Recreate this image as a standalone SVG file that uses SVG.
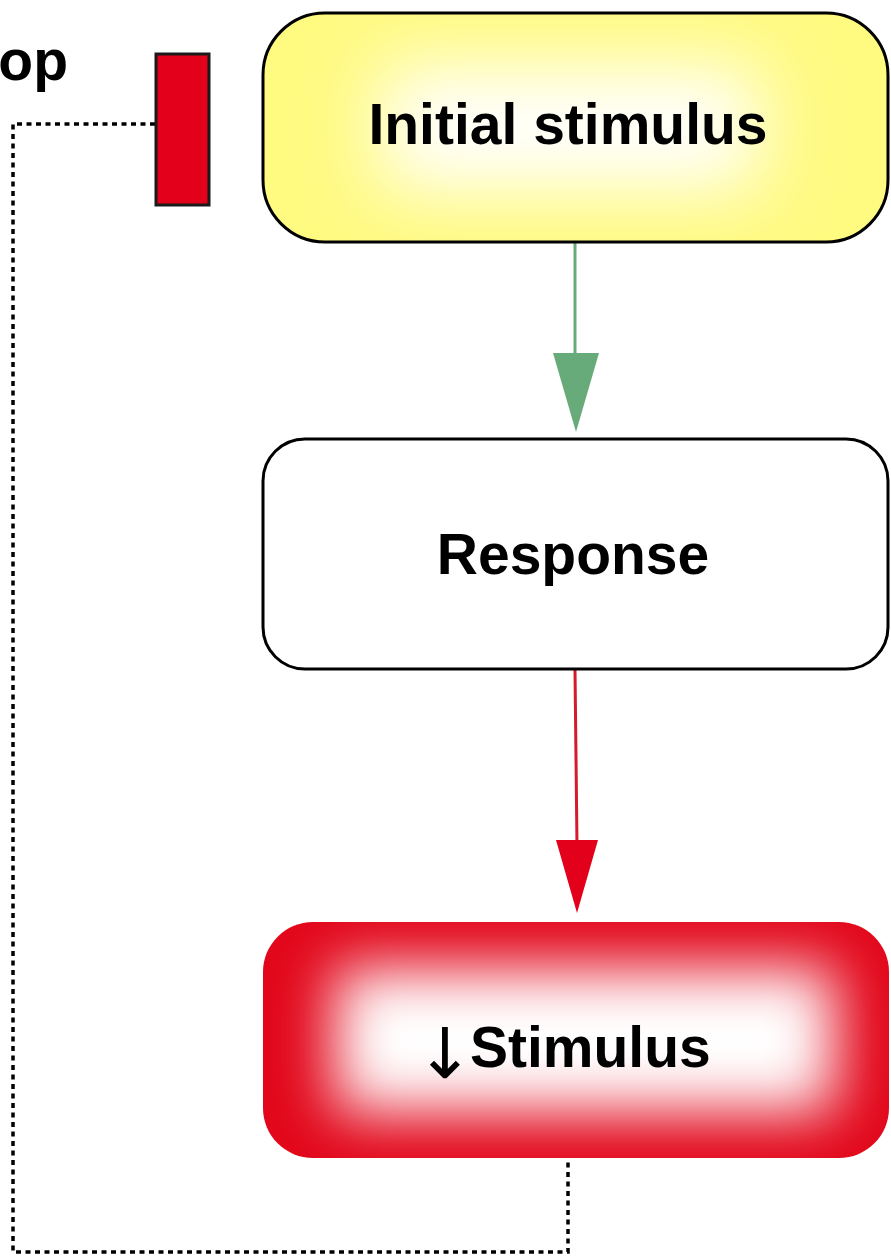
<svg xmlns="http://www.w3.org/2000/svg" width="891" height="1257" viewBox="0 0 891 1257">
<style>
.lbl{font-family:"Liberation Sans",Arial,Helvetica,sans-serif;font-weight:bold;font-size:57px;fill:#000}
.arw{font-family:"DejaVu Sans",sans-serif;font-weight:normal;font-size:70px}
.box{stroke:#000;stroke-width:3}
.dot{fill:none;stroke:#000;stroke-width:3.5;stroke-dasharray:5 4.5}
</style>
<defs>
<clipPath id="cpY"><rect x="263" y="13" width="625" height="229" rx="62"/></clipPath>
<clipPath id="cpR"><rect x="263" y="922" width="626" height="236" rx="50"/></clipPath>
<filter id="blurY" x="-50%" y="-100%" width="200%" height="300%"><feGaussianBlur stdDeviation="38"/></filter>
<filter id="blurR" x="-50%" y="-100%" width="200%" height="300%"><feGaussianBlur stdDeviation="30"/></filter>
</defs>
<rect width="891" height="1257" fill="#fff"/>
<text class="lbl" x="68" y="80" text-anchor="end">op</text>
<g id="connectors">
<path class="dot" d="M155,124 H13 V1252 H568 V1160"/>
<line x1="575" y1="243" x2="575" y2="360" stroke="#68ab7a" stroke-width="3"/>
<polygon points="553,353 599,353 576,432" fill="#68ab7a"/>
<line x1="575" y1="670" x2="577" y2="845" stroke="#d41a2b" stroke-width="3"/>
<polygon points="556,840 598,840 577,913" fill="#e2001a"/>
</g>
<g id="inhibitor">
<rect x="156" y="54" width="53" height="151" fill="#e2001a" stroke="#1a1a1a" stroke-width="3"/>
</g>
<g id="initial-stimulus">
<g clip-path="url(#cpY)">
<rect x="263" y="13" width="625" height="229" fill="#fffa80"/>
<rect x="380" y="65" width="380" height="125" fill="#fff" filter="url(#blurY)"/>
</g>
<rect class="box" x="263" y="13" width="625" height="229" rx="62" fill="none"/>
<text class="lbl" x="568" y="144" text-anchor="middle">Initial stimulus</text>
</g>
<g id="response">
<rect class="box" x="263" y="439" width="625" height="230" rx="42" fill="#fff"/>
<text class="lbl" x="573" y="574" text-anchor="middle">Response</text>
</g>
<g id="stimulus">
<g clip-path="url(#cpR)">
<rect x="263" y="922" width="626" height="236" fill="#e2061a"/>
<rect x="335" y="968" width="500" height="144" fill="#fff" filter="url(#blurR)"/>
</g>
<text class="lbl" y="1067"><tspan class="arw" x="445" y="1078" text-anchor="middle">↓</tspan><tspan x="470" y="1067" text-anchor="start">Stimulus</tspan></text>
</g>
</svg>
